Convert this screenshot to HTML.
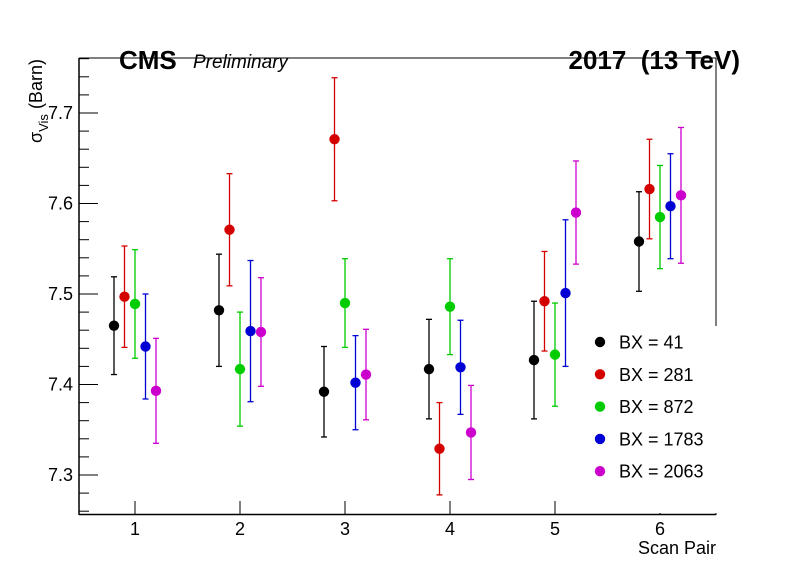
<!DOCTYPE html>
<html><head><meta charset="utf-8"><style>
html,body{margin:0;padding:0;background:#fff;}
svg{display:block;font-family:"Liberation Sans",sans-serif;}
</style></head><body>
<svg id="chart" width="796" height="572" viewBox="0 0 796 572" xmlns="http://www.w3.org/2000/svg">
<rect x="0" y="0" width="796" height="572" fill="#fff"/>
<g id="frame">
<line x1="79" y1="58" x2="716" y2="58" stroke="#000" stroke-width="1"/>
<line x1="79" y1="58" x2="79" y2="515" stroke="#000" stroke-width="1.5"/>
<line x1="716" y1="58" x2="716" y2="515" stroke="#000" stroke-width="1"/>
</g>
<g id="yaxis"></g>
<g id="xaxis"></g>
<g id="series"></g>
<rect x="581" y="326" width="136" height="187" fill="#fff"/>
<line x1="79" y1="514.5" x2="716" y2="514.5" stroke="#000" stroke-width="1.5"/>
<g id="legend"></g>
<text x="119" y="69" font-size="26" font-weight="bold">CMS</text>
<text x="193" y="68" font-size="19" font-style="italic">Preliminary</text>
<text x="740" y="69" font-size="26" font-weight="bold" text-anchor="end">2017&#160;&#160;(13 TeV)</text>
<text x="716" y="554" font-size="18" text-anchor="end">Scan Pair</text>
<text transform="translate(42,143) rotate(-90)" font-size="18">σ<tspan font-size="13" dy="6">Vis</tspan><tspan dy="-6"> (Barn)</tspan></text>
</svg>
<script>
const categories = [1, 2, 3, 4, 5, 6];
const seriesNames = ["BX = 41", "BX = 281", "BX = 872", "BX = 1783", "BX = 2063"];
const seriesColors = ["#000000", "#d40000", "#00cc00", "#0000d4", "#cc00cc"];
const bx41 = [7.465, 7.482, 7.392, 7.417, 7.427, 7.558];
const bx41Err = [0.054, 0.062, 0.050, 0.055, 0.065, 0.055];
const bx281 = [7.497, 7.571, 7.671, 7.329, 7.492, 7.616];
const bx281Err = [0.056, 0.062, 0.068, 0.051, 0.055, 0.055];
const bx872 = [7.489, 7.417, 7.490, 7.486, 7.433, 7.585];
const bx872Err = [0.060, 0.063, 0.049, 0.053, 0.057, 0.057];
const bx1783 = [7.442, 7.459, 7.402, 7.419, 7.501, 7.597];
const bx1783Err = [0.058, 0.078, 0.052, 0.052, 0.081, 0.058];
const bx2063 = [7.393, 7.458, 7.411, 7.347, 7.590, 7.609];
const bx2063Err = [0.058, 0.060, 0.050, 0.052, 0.057, 0.075];
const offsets = [-0.2, -0.1, 0, 0.1, 0.2];
const yTicks = [7.3, 7.4, 7.5, 7.6, 7.7];
const yTickLabels = ["7.3", "7.4", "7.5", "7.6", "7.7"];

const allVals = [bx41, bx281, bx872, bx1783, bx2063];
const allErrs = [bx41Err, bx281Err, bx872Err, bx1783Err, bx2063Err];
const NS = "http://www.w3.org/2000/svg";
function xs(v){ return 135 + (v - 1) * 105; }
function ys(v){ return 475 - (v - 7.3) * 905; }
function mk(tag, attrs, parent){ const e = document.createElementNS(NS, tag); for (const k in attrs) e.setAttribute(k, attrs[k]); parent.appendChild(e); return e; }

const yax = document.getElementById('yaxis');
for (let i = -2; i <= 25; i++) {
  const v = 7.3 + i * 0.02;
  const y = ys(v);
  if (y < 58 || y > 515) continue;
  const major = (i % 5 === 0);
  const t = mk('line', {x1: 79, x2: 79 + (major ? 19 : 10), y1: y, y2: y, stroke: '#000', 'stroke-width': 1}, yax);
  
  
}
yTicks.forEach((v, i) => {
  const t = mk('text', {x: 73, y: ys(v) + 6, 'font-size': 18, 'text-anchor': 'end'}, yax);
  t.textContent = yTickLabels[i];
  
  
});
const xax = document.getElementById('xaxis');
categories.forEach(c => {
  const x = xs(c);
  const l = mk('line', {x1: x, x2: x, y1: 514, y2: 501, stroke: '#000', 'stroke-width': 1}, xax);
  
  
  const t = mk('text', {x: x, y: 535, 'font-size': 18, 'text-anchor': 'middle'}, xax);
  t.textContent = String(c);
  
  
});
const ser = document.getElementById('series');
allVals.forEach((vals, s) => {
  const g = mk('g', {}, ser);
  
  
  vals.forEach((v, i) => {
    const x = xs(categories[i] + offsets[s]);
    const e = allErrs[s][i];
    const yt = ys(v + e), yb = ys(v - e);
    const c = seriesColors[s];
    mk('line', {x1: x, x2: x, y1: yt, y2: yb, stroke: c, 'stroke-width': 1.3}, g);
    mk('line', {x1: x - 3, x2: x + 3, y1: yt, y2: yt, stroke: c, 'stroke-width': 1.3}, g);
    mk('line', {x1: x - 3, x2: x + 3, y1: yb, y2: yb, stroke: c, 'stroke-width': 1.3}, g);
    const p = mk('circle', {cx: x, cy: ys(v), r: 5.2, fill: c}, g);
    
    
  });
});
const leg = document.getElementById('legend');
seriesNames.forEach((n, i) => {
  const y = 342 + i * 32.3;
  const g = mk('g', {}, leg);
  
  
  mk('circle', {cx: 600, cy: y, r: 5.2, fill: seriesColors[i]}, g);
  const t = mk('text', {x: 619, y: y + 6.5, 'font-size': 18}, g);
  t.textContent = n;
});
</script>
</body></html>
